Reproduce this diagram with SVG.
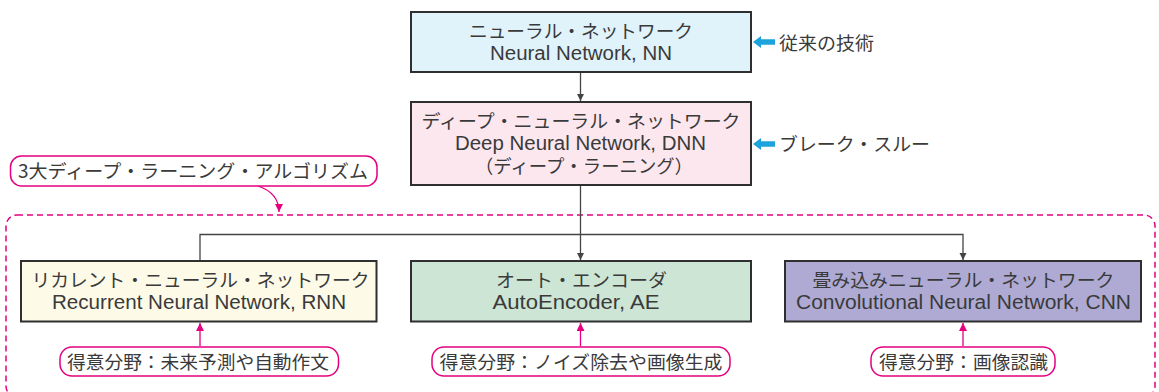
<svg xmlns="http://www.w3.org/2000/svg" width="1159" height="392" viewBox="0 0 1159 392">
<defs>
<style>
.box{stroke:#2f2f2f;stroke-width:2}
.jp{font-family:"Noto Sans CJK JP","Noto Sans",sans-serif;font-size:18.5px;fill:#3a3a3a;text-anchor:middle}
.jl{font-family:"Noto Sans CJK JP","Noto Sans",sans-serif;font-size:18.5px;fill:#3a3a3a}
.en{font-family:"Liberation Sans",Arial,sans-serif;font-size:19.5px;fill:#3a3a3a;text-anchor:middle}
.gl{stroke:#444;stroke-width:1.3;fill:none}
.pl{stroke:#e4007f;stroke-width:1.3;fill:none}
.pill{fill:#fff;stroke:#e4007f;stroke-width:1.5}
</style>
<marker id="ga" viewBox="0 0 10 10" refX="10" refY="5" markerWidth="7" markerHeight="9" markerUnits="userSpaceOnUse" orient="auto"><path d="M0,0 L10,5 L0,10 z" fill="#444"/></marker>
<marker id="pa" viewBox="0 0 10 10" refX="10" refY="5" markerWidth="8" markerHeight="8" markerUnits="userSpaceOnUse" orient="auto"><path d="M0,0 L10,5 L0,10 z" fill="#e4007f"/></marker>
<path id="blue" d="M0,0 l8,-6 v3.2 h14 v5.6 h-14 v3.2 z" fill="#1aa3dd"/>
</defs>

<rect x="6" y="215" width="1149" height="182" rx="11" fill="none" stroke="#e4007f" stroke-width="1.5" stroke-dasharray="6,4"/>

<g id="connectors">
<line class="gl" x1="580.5" y1="72" x2="580.5" y2="101" marker-end="url(#ga)"/>
<line class="gl" x1="580.5" y1="185" x2="580.5" y2="260" marker-end="url(#ga)"/>
<polyline class="gl" points="200,260 200,234.5 963,234.5 963,260" marker-start="url(#ga)" marker-end="url(#ga)"/>
<line class="pl" x1="200" y1="346" x2="200" y2="323" marker-end="url(#pa)"/>
<line class="pl" x1="580.5" y1="346" x2="580.5" y2="323" marker-end="url(#pa)"/>
<line class="pl" x1="963" y1="346" x2="963" y2="323" marker-end="url(#pa)"/>
<path class="pl" d="M258,186 C270,190 279,198 279,212" marker-end="url(#pa)"/>
<use href="#blue" x="753" y="42"/>
<use href="#blue" x="753" y="144"/>
</g>

<g id="nn">
<rect class="box" x="411" y="12" width="340" height="60" fill="#e0f2fa"/>
<text class="jp" x="581" y="38" textLength="224" lengthAdjust="spacingAndGlyphs">ニューラル・ネットワーク</text>
<text class="en" x="581" y="60" textLength="182" lengthAdjust="spacingAndGlyphs">Neural Network, NN</text>
</g>

<g id="dnn">
<rect class="box" x="411" y="102" width="340" height="83" fill="#fce7ef"/>
<text class="jp" x="581" y="128" textLength="319" lengthAdjust="spacingAndGlyphs">ディープ・ニューラル・ネットワーク</text>
<text class="en" x="580.5" y="150" textLength="251" lengthAdjust="spacingAndGlyphs">Deep Neural Network, DNN</text>
<text class="jp" x="584" y="173" textLength="218" lengthAdjust="spacingAndGlyphs">（ディープ・ラーニング）</text>
</g>

<g id="note-conventional">
<text class="jl" x="779" y="49.5" textLength="95" lengthAdjust="spacingAndGlyphs">従来の技術</text>
</g>
<g id="note-breakthrough">
<text class="jl" x="779" y="150.5" textLength="151" lengthAdjust="spacingAndGlyphs">ブレーク・スルー</text>
</g>

<g id="label-3">
<rect class="pill" x="10.5" y="156" width="366.5" height="30" rx="11"/>
<text class="jl" x="18" y="177.5" textLength="350" lengthAdjust="spacingAndGlyphs">3大ディープ・ラーニング・アルゴリズム</text>
</g>

<g id="rnn">
<rect class="box" x="21" y="261" width="355.5" height="60.5" fill="#fefae8"/>
<text class="jp" x="200.5" y="286.5" textLength="338" lengthAdjust="spacingAndGlyphs">リカレント・ニューラル・ネットワーク</text>
<text class="en" x="199" y="308.5" textLength="294" lengthAdjust="spacingAndGlyphs">Recurrent Neural Network, RNN</text>
</g>

<g id="ae">
<rect class="box" x="411" y="261" width="340" height="60.5" fill="#cce5d5"/>
<text class="jp" x="581.5" y="286.5" textLength="171" lengthAdjust="spacingAndGlyphs">オート・エンコーダ</text>
<text class="en" x="576" y="308.5" textLength="167" lengthAdjust="spacingAndGlyphs">AutoEncoder, AE</text>
</g>

<g id="cnn">
<rect class="box" x="785" y="261" width="356" height="60.5" fill="#aeaad3"/>
<text class="jp" x="963.5" y="286.5" textLength="302" lengthAdjust="spacingAndGlyphs">畳み込みニューラル・ネットワーク</text>
<text class="en" x="963.5" y="308.5" textLength="335" lengthAdjust="spacingAndGlyphs">Convolutional Neural Network, CNN</text>
</g>

<g id="field-rnn">
<rect class="pill" x="60" y="347" width="278.5" height="29" rx="12"/>
<text class="jp" x="198" y="369" textLength="262" lengthAdjust="spacingAndGlyphs">得意分野：未来予測や自動作文</text>
</g>
<g id="field-ae">
<rect class="pill" x="432" y="347" width="298" height="29" rx="12"/>
<text class="jp" x="581" y="369" textLength="283" lengthAdjust="spacingAndGlyphs">得意分野：ノイズ除去や画像生成</text>
</g>
<g id="field-cnn">
<rect class="pill" x="871" y="347" width="184" height="29" rx="12"/>
<text class="jp" x="963.5" y="369" textLength="169" lengthAdjust="spacingAndGlyphs">得意分野：画像認識</text>
</g>
</svg>
